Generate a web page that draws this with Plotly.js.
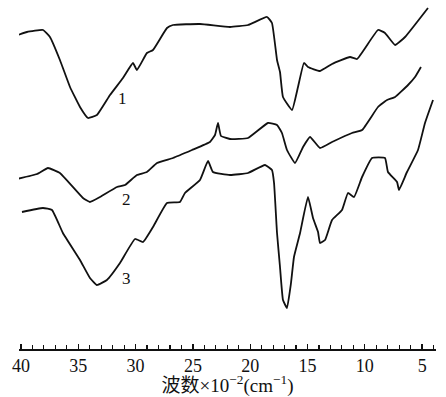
<!DOCTYPE html>
<html>
<head>
<meta charset="utf-8">
<script src="https://cdn.plot.ly/plotly-3.0.1.min.js"></script>
<style>html,body{margin:0;padding:0;background:#fff;}#chart{width:446px;height:397px;}</style>
</head>
<body>
<div id="chart"></div>
<script>
// wavenumber (x 100 cm^-1) and relative transmittance (arbitrary units)
const wn1 = [40.26, 39.48, 38.08, 37.47, 36.60, 35.72, 34.85, 34.15, 33.37, 32.23, 31.10, 30.23, 29.88, 29.01, 28.48, 27.26, 26.74, 24.38, 21.76, 20.19, 18.53, 18.10, 17.66, 17.40, 17.14, 16.35, 15.83, 15.31, 14.96, 13.91, 12.86, 11.29, 10.68, 8.85, 8.24, 7.36, 6.49, 4.49];
const t1  = [314, 317, 319, 312, 289, 262, 242, 231, 234, 254, 271, 286, 279, 296, 299, 321, 324, 325, 322, 324, 332, 326, 289, 277, 252, 239, 262, 286, 282, 278, 285, 292, 290, 319, 316, 304, 312, 341];

const wn2 = [40.35, 38.60, 37.64, 36.60, 34.59, 33.98, 33.11, 31.62, 30.92, 29.88, 29.01, 28.13, 26.74, 25.08, 23.51, 23.07, 22.81, 22.55, 21.76, 20.19, 18.45, 17.66, 17.23, 16.79, 16.09, 15.39, 14.78, 13.91, 12.86, 11.12, 10.24, 8.85, 8.06, 7.36, 6.23, 5.62, 5.10];
const t2  = [170, 175, 181, 176, 151, 147, 152, 162, 164, 174, 177, 186, 191, 199, 207, 214, 226, 213, 210, 211, 226, 224, 216, 199, 186, 202, 212, 201, 207, 216, 219, 242, 249, 252, 264, 272, 282];

const wn3 = [39.91, 38.08, 37.29, 36.34, 34.85, 33.98, 33.37, 32.50, 31.36, 30.05, 29.35, 28.48, 27.26, 26.13, 25.69, 24.38, 23.68, 23.25, 21.76, 20.19, 18.71, 18.10, 17.92, 17.66, 17.40, 17.14, 16.79, 16.44, 16.18, 15.65, 14.96, 14.52, 14.08, 13.91, 13.47, 12.86, 11.99, 11.47, 10.94, 10.24, 9.37, 8.24, 7.98, 7.19, 7.02, 6.32, 5.36, 4.75, 4.05];
const t3  = [137, 141, 139, 116, 89, 71, 64, 69, 86, 110, 107, 122, 146, 147, 156, 169, 188, 177, 174, 176, 184, 179, 166, 116, 82, 49, 41, 66, 92, 116, 152, 131, 117, 106, 109, 129, 139, 156, 152, 172, 191, 191, 177, 167, 159, 177, 199, 226, 249];

const tickVals = [40, 35, 30, 25, 20, 15, 10, 5];
const tickText = ['40', '35', '30', '25', '20', '15', '10', '5'];
const curveLabels = ['1', '2', '3'];
const labelX = [31.10, 30.75, 30.75];
const labelY = [251, 150, 71];

const serif = 'Liberation Serif, Noto Sans CJK SC, serif';
const lineStyle = {color: '#111', width: 1.8, shape: 'spline', smoothing: 0.35};

const traces = [[wn1, t1], [wn2, t2], [wn3, t3]].map(([x, y]) => ({
  x: x, y: y, type: 'scatter', mode: 'lines', line: lineStyle, hoverinfo: 'skip', showlegend: false
}));

const layout = {
  width: 446, height: 397,
  margin: {l: 19, r: 10, t: 0, b: 48},
  paper_bgcolor: '#fff', plot_bgcolor: '#fff',
  font: {family: serif, color: '#111'},
  xaxis: {
    range: [40.17, 3.79],
    tickmode: 'array', tickvals: tickVals, ticktext: tickText,
    ticks: 'inside', ticklen: 5, tickwidth: 1.3, tickcolor: '#111',
    minor: {dtick: 1, tick0: 0, ticks: 'inside', ticklen: 4, tickwidth: 1.1, tickcolor: '#111', showgrid: false},
    showline: true, linecolor: '#111', linewidth: 1.5,
    showgrid: false, zeroline: false,
    tickfont: {family: serif, size: 18, color: '#111'},
    title: {text: '波数×10<sup>−2</sup>(cm<sup>−1</sup>)', font: {family: serif, size: 19, color: '#111'}, standoff: 0}
  },
  yaxis: {visible: false, range: [0, 349], fixedrange: true},
  annotations: curveLabels.map((t, i) => ({
    x: labelX[i], y: labelY[i], xref: 'x', yref: 'y', text: t, showarrow: false,
    font: {family: serif, size: 17, color: '#111'}
  }))
};

Plotly.newPlot('chart', traces, layout, {staticPlot: true, displayModeBar: false});
</script>
</body>
</html>
